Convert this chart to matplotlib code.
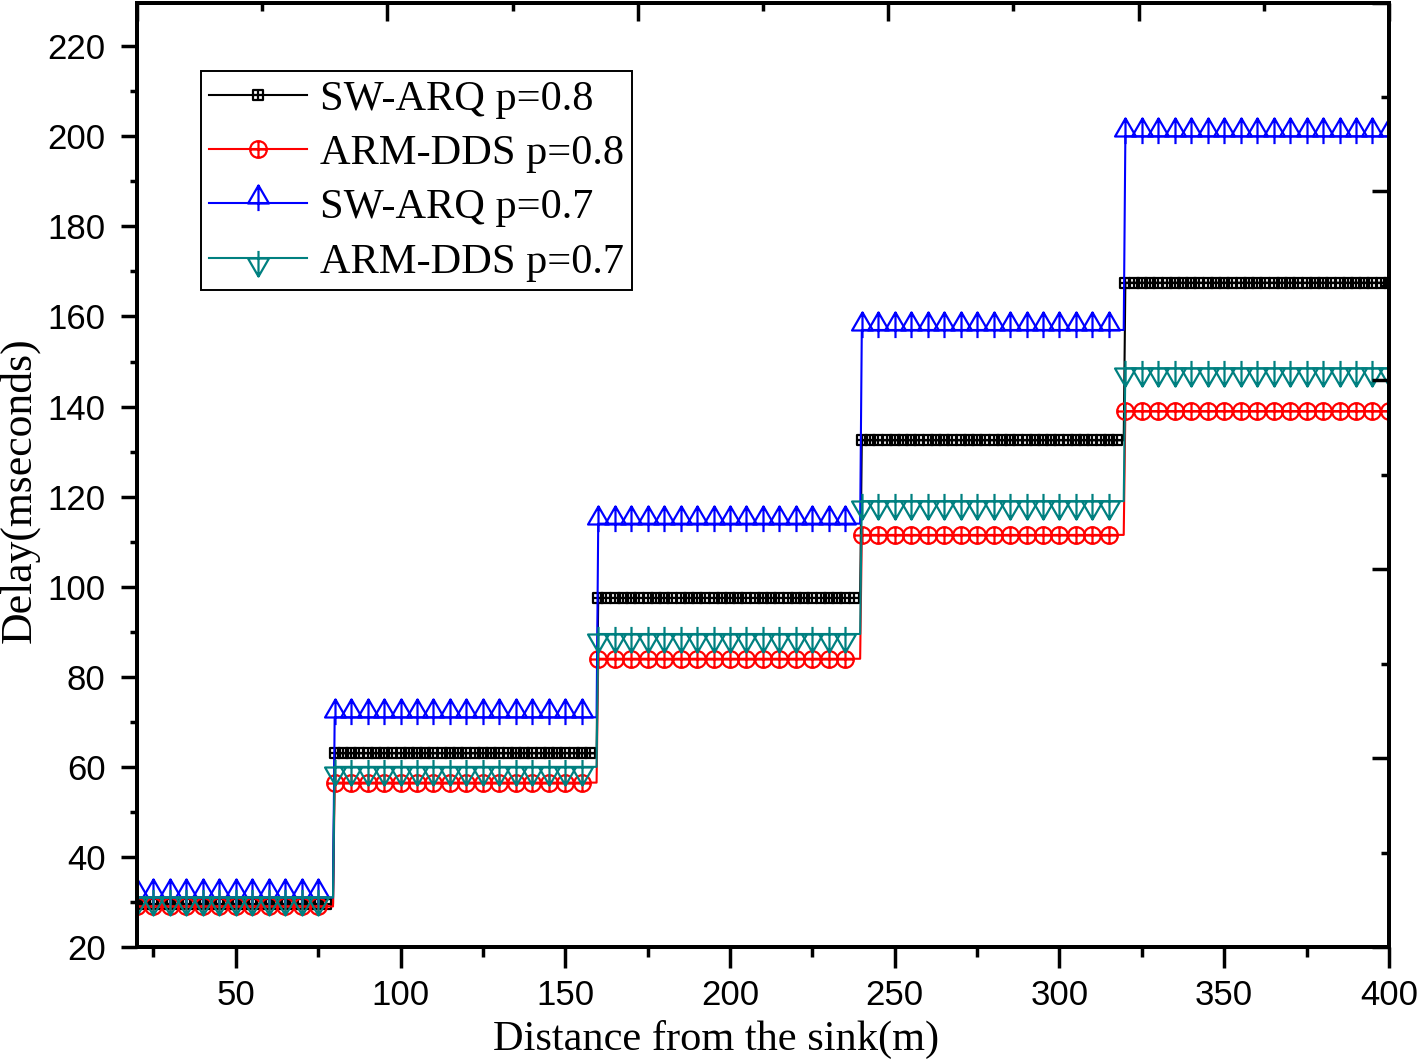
import numpy as np
import matplotlib
matplotlib.use("Agg")
import matplotlib.pyplot as plt
from matplotlib.path import Path
from matplotlib.ticker import MultipleLocator

# delay level (ms) held on each 80 m hop
hop_edges = [20, 80, 160, 240, 320, 400]
sw_arq_08 = [29.5, 63.0, 97.5, 132.5, 167.5]
arm_dds_08 = [29.0, 56.5, 84.0, 111.5, 139.0]
sw_arq_07 = [31.0, 71.0, 114.0, 157.0, 200.0]
arm_dds_07 = [31.0, 60.0, 89.5, 119.0, 148.5]
labels = ["SW-ARQ p=0.8", "ARM-DDS p=0.8", "SW-ARQ p=0.7", "ARM-DDS p=0.7"]

# distances sampled every 0.5 m, each one gets the level of its hop
dist = np.arange(hop_edges[0], hop_edges[-1] + 0.25, 0.5)
hop_idx = np.clip(np.searchsorted(hop_edges, dist, side="right") - 1, 0, len(sw_arq_08) - 1)

M, L, C = Path.MOVETO, Path.LINETO, Path.CLOSEPOLY
square_plus = Path([(-1, -1), (1, -1), (1, 1), (-1, 1), (-1, -1), (0, -1), (0, 1), (-1, 0), (1, 0)],
                   [M, L, L, L, C, M, L, M, L])
circle_plus = Path.make_compound_path(Path.unit_circle(),
                                      Path([(0, -1), (0, 1), (-1, 0), (1, 0)], [M, L, M, L]))
tri_up = Path([(-1.1, 0), (1.1, 0), (0, 1.9), (-1.1, 0), (0, 1.9), (0, -0.8)], [M, L, L, C, M, L])
tri_down = Path([(-1.1, 0), (1.1, 0), (0, -1.9), (-1.1, 0), (0, -1.9), (0, 0.8)], [M, L, L, C, M, L])

series = [
    (sw_arq_08, "black", square_plus, 7.5, 5),
    (arm_dds_08, "red", circle_plus, 12, 10),
    (sw_arq_07, "blue", tri_up, 26, 10),
    (arm_dds_07, "#008080", tri_down, 26, 10),
]

plt.rcParams["font.family"] = "Liberation Serif"

fig = plt.figure(figsize=(14.18, 10.60), dpi=100)
ax = fig.add_axes([0.0966, 0.1066, 0.8829, 0.8910])

for (levels, col, mk, ms, every), lab in zip(series, labels):
    y = np.array(levels)[hop_idx]
    ax.plot(dist, y, color=col, lw=1.5, marker=mk, markersize=ms, markevery=every,
            markerfacecolor="none", markeredgecolor=col, markeredgewidth=1.6, label=lab)

ax.set_xlim(20, 400)
ax.set_ylim(20, 229.7)
ax.xaxis.set_major_locator(MultipleLocator(50))
ax.xaxis.set_minor_locator(MultipleLocator(25))
ax.yaxis.set_major_locator(MultipleLocator(20))
ax.yaxis.set_minor_locator(MultipleLocator(10))
ax.tick_params(axis="x", which="major", direction="out", length=15, width=2.5, pad=8)
ax.tick_params(axis="x", which="minor", direction="out", length=7, width=2.5)
ax.tick_params(axis="y", which="major", direction="out", length=11.5, width=2.5, pad=11)
ax.tick_params(axis="y", which="minor", direction="out", length=5, width=2.5)
for t in ax.get_xticklabels() + ax.get_yticklabels():
    t.set_fontfamily("Liberation Sans")
    t.set_fontsize(25)
for s in ax.spines.values():
    s.set_linewidth(2.8)

# top and right axes in Origin use their own scales
top = ax.twiny()
top.set_xlim(0, 5)
top.xaxis.set_major_locator(MultipleLocator(1))
top.xaxis.set_minor_locator(MultipleLocator(0.5))
top.tick_params(axis="x", which="major", direction="in", length=13, width=2.5, labeltop=False)
top.tick_params(axis="x", which="minor", direction="in", length=6, width=2.5)
right = ax.twinx()
right.set_ylim(0, 100)
right.yaxis.set_major_locator(MultipleLocator(20))
right.yaxis.set_minor_locator(MultipleLocator(10))
right.tick_params(axis="y", which="major", direction="in", length=12, width=2.5, labelright=False)
right.tick_params(axis="y", which="minor", direction="in", length=6, width=2.5)
for a in (top, right):
    for s in a.spines.values():
        s.set_linewidth(2.8)

ax.set_xlabel("Distance from the sink(m)", fontsize=30.5)
ax.xaxis.set_label_coords(0.4625, -0.077)
ax.set_ylabel("Delay(mseconds)", fontsize=31.5)
ax.yaxis.set_label_coords(-0.078, 0.484)

leg = ax.legend(loc="upper left", bbox_to_anchor=(0.0511, 0.927), borderaxespad=0,
                fontsize=30.5, frameon=True, fancybox=False, framealpha=1, edgecolor="black",
                borderpad=0.2, labelspacing=0.37, handlelength=2.3, handletextpad=0.3)
leg.get_frame().set_linewidth(1.4)
leg.set_zorder(10)

fig.savefig("out.png", dpi=100)
